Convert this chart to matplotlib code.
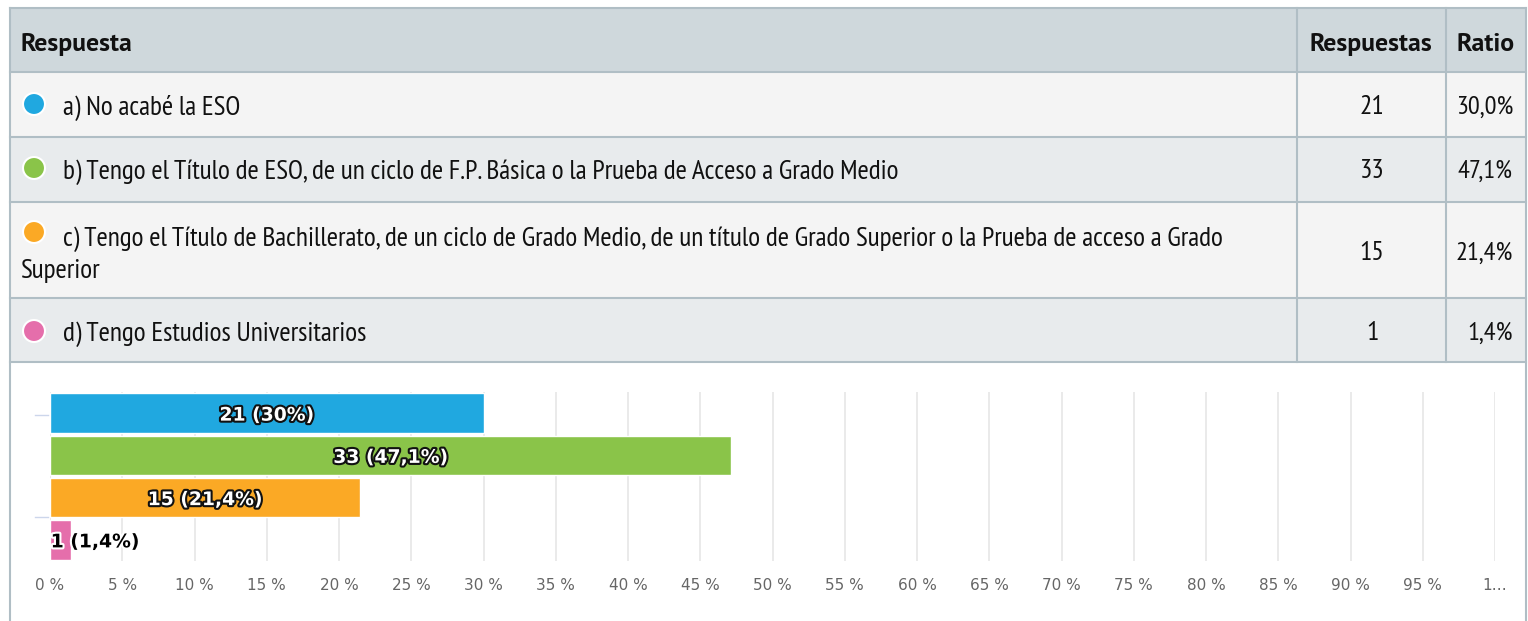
import numpy as np
import matplotlib
matplotlib.use("Agg")
import matplotlib.pyplot as plt
import matplotlib.patheffects as pe
from matplotlib.patches import Rectangle, Circle

# Datos
respuestas = [
    "a) No acabé la ESO",
    "b) Tengo el Título de ESO, de un ciclo de F.P. Básica o la Prueba de Acceso a Grado Medio",
    "c) Tengo el Título de Bachillerato, de un ciclo de Grado Medio, de un título de Grado Superior o la Prueba de acceso a Grado",
    "d) Tengo Estudios Universitarios",
]
respuesta_c_cont = "Superior"
conteos = [21, 33, 15, 1]
ratios = ["30,0%", "47,1%", "21,4%", "1,4%"]
colores = ["#20a8e0", "#8ac449", "#fba925", "#e56eab"]
ticks_pct = list(range(0, 101, 5))
tick_labels = [f"{t} %" for t in ticks_pct[:-1]] + ["1…"]

W, H = 1528, 621
fig = plt.figure(figsize=(W / 100, H / 100), dpi=100)

# Fondo: tabla en coordenadas de píxel
bg = fig.add_axes([0, 0, 1, 1])
bg.set_xlim(0, W)
bg.set_ylim(H, 0)
bg.axis("off")

borde = "#b0bec5"
filas = [8, 72, 137, 202, 298, 362]
fondos = ["#cfd8dc", "#f4f4f4", "#e8ebed", "#f4f4f4", "#e8ebed"]
for i, c in enumerate(fondos):
    bg.add_patch(Rectangle((10, filas[i]), 1516, filas[i + 1] - filas[i], facecolor=c, edgecolor="none"))
for y in filas:
    bg.plot([10, 1526], [y, y], color=borde, lw=1.5)
bg.plot([10, 10], [8, H], color=borde, lw=1.5)
bg.plot([1526, 1526], [8, H], color=borde, lw=1.5)
for x in [1297, 1446]:
    bg.plot([x, x], [8, 362], color=borde, lw=1.5)

fuente = "PT Sans Narrow"
fs = 19.7
fs_cab = 18.5
cab = dict(fontfamily="PT Sans", fontweight="bold", fontsize=fs_cab, va="baseline", color="#111")
bg.text(20, 51, "Respuesta", **cab)
bg.text(1371, 51, "Respuestas", ha="center", **cab)
bg.text(1486, 51, "Ratio", ha="center", **cab)

y_texto = [115, 179, 246, 341]
y_circ = [104, 168, 232, 331]
y_num = [114, 178, 260, 340]
for i in range(4):
    bg.add_patch(Circle((34, y_circ[i]), 11, facecolor=colores[i], edgecolor="white", lw=1.5))
    bg.text(63, y_texto[i], respuestas[i], fontfamily=fuente, fontsize=fs, va="baseline", color="#111")
    bg.text(1372, y_num[i], str(conteos[i]), fontfamily=fuente, fontsize=fs, va="baseline", ha="center", color="#111")
    bg.text(1513, y_num[i], ratios[i], fontfamily=fuente, fontsize=19, va="baseline", ha="right", color="#111")
bg.text(20, 278, respuesta_c_cont, fontfamily=fuente, fontsize=fs, va="baseline", color="#111")

# pequeñas marcas del eje de categorías
for y in [415, 517]:
    bg.plot([35, 48], [y, y], color="#ccd6eb", lw=1)

# Gráfico de barras
ax = fig.add_axes([50 / W, 1 - 561 / H, (1495 - 50) / W, (561 - 392) / H])
ax.set_facecolor("none")
total = sum(conteos)
pct = [c / total * 100 for c in conteos]
pos = np.arange(len(conteos))
ax.barh(pos, pct, height=0.93, color=colores, edgecolor="white", linewidth=1, zorder=3)
ax.set_xlim(0, 100)
ax.set_ylim(len(conteos) - 0.5, -0.5)
ax.set_xticks(ticks_pct)
ax.set_xticklabels(tick_labels, color="#666666", fontsize=11)
ax.tick_params(axis="x", length=0, pad=12)
ax.set_yticks([])
ax.grid(axis="x", color="#e6e6e6", lw=1.2, zorder=0)
for s in ax.spines.values():
    s.set_visible(False)

for i, (c, p) in enumerate(zip(conteos, pct)):
    txt = f"{p:.1f}".replace(".", ",")
    if txt.endswith(",0"):
        txt = txt[:-2]
    etiqueta = f"{c} ({txt}%)"
    if p > 10:
        ax.text(p / 2, i, etiqueta, ha="center", va="center_baseline", fontsize=13.5, fontweight="bold",
                color="white", zorder=4,
                path_effects=[pe.withStroke(linewidth=3, foreground="#111111")])
    else:
        ax.text(0.05, i, etiqueta, ha="left", va="center_baseline", fontsize=13.5, fontweight="bold",
                color="black", zorder=4,
                path_effects=[pe.withStroke(linewidth=3, foreground="white")])

fig.savefig("out.png", dpi=100)
